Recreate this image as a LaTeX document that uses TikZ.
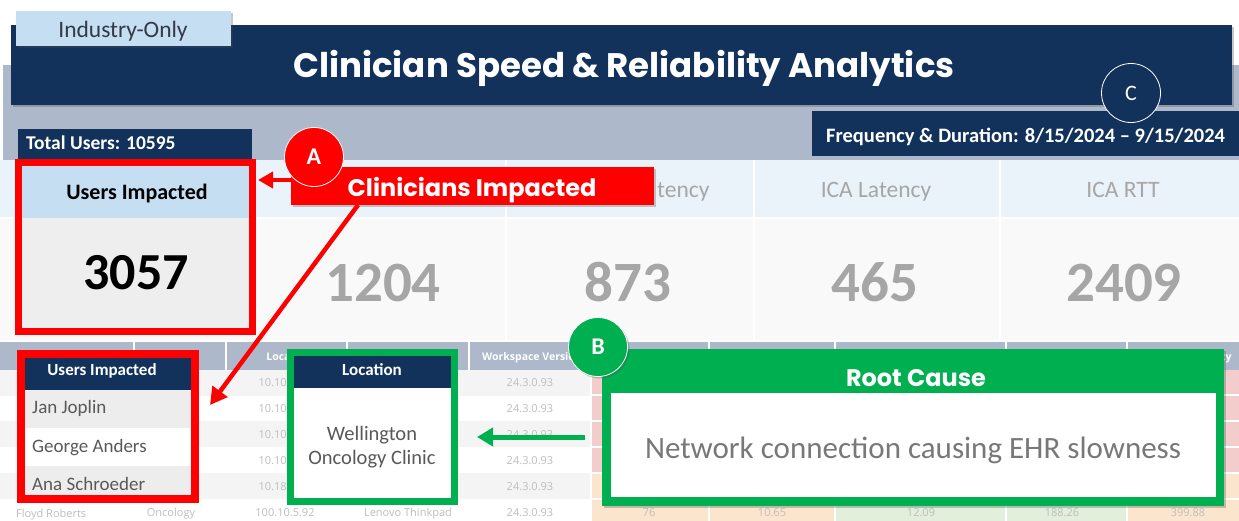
\documentclass[tikz,border=0pt]{standalone}
\usepackage{fontspec}
\setmainfont{Carlito}
\newfontfamily\heavyfont{Poppins}
\newfontfamily\gridfont{Open Sans}
\usetikzlibrary{arrows.meta,shadows,positioning}
\newcommand{\pts}[1]{\fontsize{#1}{#1}\selectfont}
\definecolor{navy}{RGB}{18,50,91}
\definecolor{bandgray}{RGB}{173,185,202}
\definecolor{paleblue}{RGB}{197,222,241}
\definecolor{headblue}{RGB}{235,243,250}
\definecolor{numbg}{RGB}{249,249,249}
\definecolor{rowgray}{RGB}{244,244,244}
\definecolor{listgray}{RGB}{237,237,237}
\definecolor{kpigray}{RGB}{238,238,238}
\definecolor{numgray}{RGB}{166,166,166}
\definecolor{cellgray}{RGB}{190,190,190}
\definecolor{textgray}{RGB}{89,89,89}
\definecolor{rootgray}{RGB}{120,120,120}
\definecolor{tabtext}{RGB}{50,58,72}
\definecolor{markred}{RGB}{255,0,0}
\definecolor{markgreen}{RGB}{0,176,80}
\definecolor{pinkcell}{RGB}{243,204,204}
\definecolor{peachcell}{RGB}{251,229,205}
\definecolor{greencell}{RGB}{226,239,218}
\begin{document}
\begin{tikzpicture}[x=1pt,y=-1pt,
  badge/.style={circle,draw=white,line width=0.8pt,minimum size=59pt,inner sep=0pt,text=white,font=\pts{24}\bfseries},
  kpihead/.style={text=numgray,font=\pts{23.5},anchor=base},
  kpinum/.style={text=numgray,font=\pts{57}\bfseries,anchor=base},
  cell/.style={text=cellgray,font=\gridfont\pts{11},anchor=base,inner sep=0pt},
  cellhead/.style={text=white,font=\gridfont\pts{10.5}\bfseries,anchor=base,inner sep=0pt},
  person/.style={text=textgray,font=\pts{19},anchor=base west,inner sep=0pt},
  cardhead/.style={text=white,font=\pts{17}\bfseries,anchor=base,inner sep=0pt},
  sep/.style={white,line width=1.5pt},
  shade/.style={drop shadow={opacity=0.3,shadow xshift=2pt,shadow yshift=-2pt,fill=black!70}},
]
\useasboundingbox (0,0) rectangle (1239,520);
\fill[white] (0,0) rectangle (1239,520);
% title banner
\fill[bandgray] (3,65) rectangle (1239,160);
\fill[navy,shade] (11,25) rectangle (1232,105);
\node[text=white,font=\heavyfont\bfseries\pts{34},anchor=base] (title) at (624,77) {Clinician Speed \& Reliability Analytics};
\node[fill=paleblue,minimum width=215pt,minimum height=35pt,anchor=north west,inner sep=0pt,shade] (tab) at (16,11) {};
\node[text=tabtext,font=\pts{23.5},anchor=base] at (123,37) {Industry-Only};
\fill[navy] (18,129) rectangle (252,159);
\node[text=white,font=\pts{19.5}\bfseries,anchor=base west,inner sep=0pt] (total) at (26,149) {Total Users: 10595};
\fill[navy] (812,111) rectangle (1239,156);
\node[text=white,font=\pts{20.5}\bfseries,anchor=base west,inner sep=0pt] (freq) at (826,142) {Frequency \& Duration: 8/15/2024 -- 9/15/2024};
\node[badge,fill=navy,font=\pts{22}] (C) at (1131,93) {C};
% kpi strip
\fill[headblue] (0,160) rectangle (1239,218);
\fill[numbg] (0,218) rectangle (1239,340);
\foreach \sx in {255,506,754,1000} \draw[sep] (\sx,160) -- (\sx,340);
\draw[sep] (0,218) -- (1239,218);
\node[kpihead,anchor=base west,inner sep=0pt] at (657,197) {tency};
\node[kpihead] at (876,197) {ICA Latency};
\node[kpihead] at (1123,197) {ICA RTT};
\foreach \cx/\val in {383/1204,628/873,875/465,1124/2409} \node[kpinum] at (\cx,301) {\val};
% table behind
\fill[bandgray] (0,342) rectangle (1239,370);
\foreach \ry in {370,421,473} \fill[rowgray] (0,\ry) rectangle (591,\ry+26);
\foreach \ry in {370,395,421,447} \fill[pinkcell] (591,\ry) rectangle (1239,\ry+26);
\foreach \ry in {473,499} \fill[peachcell] (591,\ry) rectangle (1239,\ry+26);
\fill[greencell] (835,499) rectangle (1127,525);
\foreach \sx in {134,226,347,469,591,709,835,1006,1127} \draw[sep] (\sx,342) -- (\sx,370);
\foreach \sx in {591,709,835,1006,1127} \draw[sep] (\sx,370) -- (\sx,525);
\foreach \ry in {395,421,447,473,499} \draw[sep] (591,\ry) -- (1239,\ry);
\node[cellhead] at (289,360) {Location};
\node[cellhead] at (532,360) {Workspace Version};
\node[cellhead] at (1066,360) {Avg ICA RTT (ms)};
\node[cellhead] at (1190,360) {Avg ICA Latency};
\foreach \by/\ip in {386/10.10.2.41,412/10.10.3.17,438/10.10.2.88,464/10.10.4.15,490/10.18.1.23} \node[cell] at (285,\by) {\ip};
\foreach \by in {386,412,438,464,490,516} \node[cell] at (530,\by) {24.3.0.93};
\node[cell] at (171,490) {Cardiology};
\node[cell,anchor=base west] at (16,517) {Floyd Roberts};
\foreach \cx/\txt in {171/Oncology,285/100.10.5.92,408/Lenovo Thinkpad,649/76,772/10.65,921/12.09,1062/188.26,1188/399.88}
  \node[cell] at (\cx,516) {\txt};
% users impacted card
\draw[markred,line width=7pt,fill=kpigray,shade] (18.5,162.5) rectangle (252.5,331.5);
\fill[paleblue] (22,166) rectangle (249,218);
\node[text=black,font=\pts{22}\bfseries,anchor=base] at (137,199) {Users Impacted};
\node[text=black,font=\pts{52}\bfseries,anchor=base] (kpi) at (136,289) {3057};
% user list card
\draw[markred,line width=8pt,fill=white,shade] (21,354) rectangle (195,499);
\fill[navy] (25,358) rectangle (191,390);
\fill[listgray] (25,390) rectangle (191,428);
\fill[listgray] (25,466) rectangle (191,495);
\node[cardhead] at (102,375) {Users Impacted};
\node[person] (jan) at (32,413) {Jan Joplin};
\node[person] (george) at (32,452) {George Anders};
\node[person] (ana) at (32,490) {Ana Schroeder};
% location card
\draw[markgreen,line width=7pt,fill=white,shade] (290.5,352.5) rectangle (454.5,501.5);
\fill[navy] (294,356) rectangle (451,388);
\node[cardhead] at (372,375) {Location};
\node[text=textgray,font=\pts{20.5},anchor=base] (loc1) at (372,440) {Wellington};
\node[text=textgray,font=\pts{20.5},anchor=base] (loc2) at (372,464) {Oncology Clinic};
% root cause card
\fill[markgreen,shade] (602,349) rectangle (1224,506);
\fill[white] (611,393) rectangle (1216,497);
\node[text=white,font=\heavyfont\bfseries\pts{24},anchor=base] (root) at (916,386) {Root Cause};
\node[text=rootgray,font=\pts{31},anchor=base] (cause) at (913,458) {Network connection causing EHR slowness};
\node[badge,fill=markgreen,shade] (B) at (598,347) {B};
\coordinate (rootTail) at (585,437);
\coordinate (locTip) at (477,437);
\draw[markgreen,line width=5pt,-{Triangle[length=16pt,width=18pt]}] (rootTail) -- (locTip);
% callout A
\coordinate (clinTail) at (292,180);
\coordinate (kpiTip) at (258,180);
\draw[markred,line width=4.5pt,-{Triangle[length=15pt,width=16pt]}] (clinTail) -- (kpiTip);
\node[fill=markred,minimum width=363pt,minimum height=38pt,anchor=north west,inner sep=0pt,shade] (clin) at (291,167) {};
\node[text=white,font=\heavyfont\bfseries\pts{24},anchor=base] at (472,196) {Clinicians Impacted};
\node[badge,fill=markred] (A) at (314,157) {A};
\coordinate (clinFoot) at (358,205);
\coordinate (listTip) at (210,405);
\draw[markred,line width=4.5pt,-{Triangle[length=17pt,width=18pt]}] (clinFoot) -- (listTip);
\end{tikzpicture}
\end{document}
